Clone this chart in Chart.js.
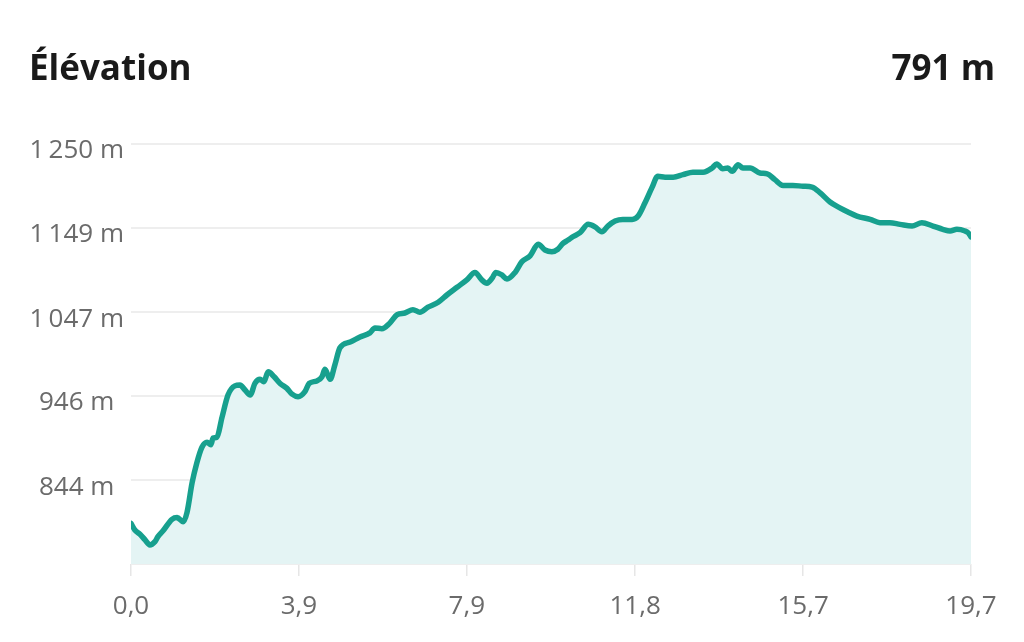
<html lang="fr">
<head>
  <meta charset="UTF-8" />
  <title>Élévation</title>
  <script src="https://cdn.jsdelivr.net/npm/chart.js"></script>
  <style>
    body { margin: 0; background: #fff; font-family: 'Open Sans', sans-serif; }
    .wrap { position: relative; width: 1024px; height: 642px; }
    canvas { display: block; }
  </style>
</head>
<body>
  <div class="wrap">
    <canvas id="chart" width="1024" height="642"></canvas>
  </div>

  <script>
    // profile: distance (km) and elevation (m)
    const distKm = [
      0.00, 0.09, 0.21, 0.33, 0.44, 0.56, 0.63, 0.75, 0.96, 1.08,
      1.22, 1.31, 1.43, 1.54, 1.66, 1.78, 1.87, 1.92, 2.01, 2.13,
      2.27, 2.43, 2.55, 2.67, 2.79, 2.90, 3.02, 3.11, 3.21, 3.35,
      3.49, 3.65, 3.77, 3.91, 4.07, 4.17, 4.35, 4.47, 4.54, 4.66,
      4.77, 4.89, 5.13, 5.36, 5.59, 5.71, 5.87, 6.06, 6.23, 6.41,
      6.60, 6.76, 6.95, 7.19, 7.40, 7.63, 7.86, 8.05, 8.21, 8.33,
      8.45, 8.54, 8.68, 8.80, 8.99, 9.15, 9.34, 9.53, 9.69, 9.85,
      9.99, 10.11, 10.23, 10.34, 10.51, 10.70, 10.86, 11.02, 11.16, 11.33,
      11.51, 11.73, 11.87, 12.03, 12.19, 12.33, 12.50, 12.69, 12.92, 13.15,
      13.39, 13.60, 13.71, 13.85, 13.97, 14.07, 14.21, 14.32, 14.49, 14.72,
      14.89, 15.07, 15.26, 15.49, 15.73, 15.94, 16.13, 16.36, 16.59, 16.78,
      16.99, 17.30, 17.53, 17.76, 18.00, 18.28, 18.51, 18.77, 19.00, 19.17,
      19.33, 19.52, 19.59, 19.66
    ];
    const elevM = [
      792, 784, 779, 772, 766, 770, 776, 783, 797, 799,
      794, 805, 841, 865, 884, 890, 887, 895, 896, 920,
      947, 958, 959, 953, 947, 961, 966, 963, 975, 969,
      961, 955, 948, 945, 951, 961, 964, 969, 978, 966,
      983, 1004, 1011, 1017, 1022, 1028, 1027, 1034, 1044, 1046,
      1050, 1047, 1053, 1059, 1068, 1077, 1086, 1095, 1086, 1082,
      1088, 1095, 1092, 1087, 1095, 1108, 1115, 1129, 1122, 1120,
      1123, 1130, 1134, 1138, 1143, 1153, 1150, 1144, 1151, 1157,
      1159, 1159, 1163, 1179, 1197, 1211, 1210, 1210, 1213, 1216,
      1216, 1221, 1226, 1220, 1221, 1217, 1225, 1221, 1221, 1215,
      1214, 1207, 1200, 1200, 1199, 1198, 1191, 1180, 1173, 1168,
      1163, 1159, 1155, 1155, 1153, 1151, 1155, 1151, 1147, 1145,
      1147, 1145, 1143, 1138
    ];
    const xTicks = [0, 3.93, 7.86, 11.80, 15.73, 19.66];
    const yTicks = [743, 844, 946, 1047, 1149, 1250];
    const titleText = 'Élévation';
    const valueText = '791 m';

    const headerPlugin = {
      id: 'header',
      afterDraw(chart) {
        const ctx = chart.ctx;
        ctx.save();
        ctx.fillStyle = '#1a1a1a';
        ctx.font = "bold 35px 'Open Sans'";
        ctx.textBaseline = 'alphabetic';
        ctx.textAlign = 'left';
        ctx.fillText(titleText, 29, 80);
        ctx.textAlign = 'right';
        ctx.fillText(valueText, 995, 80);
        ctx.restore();
      }
    };

    const fmtKm = v => v.toFixed(1).replace('.', ',');
    const fmtM = v => {
      const s = String(Math.round(v));
      return s.replace(/\B(?=(\d{3})+(?!\d))/g, '\u2009') + ' m';
    };

    new Chart(document.getElementById('chart'), {
      type: 'line',
      data: {
        datasets: [{
          data: distKm.map((d, i) => ({ x: d, y: elevM[i] })),
          borderColor: '#17a08e',
          backgroundColor: '#e4f4f4',
          borderWidth: 5.5,
          fill: 'start',
          pointRadius: 0,
          cubicInterpolationMode: 'monotone',
          borderJoinStyle: 'round',
          borderCapStyle: 'round'
        }]
      },
      options: {
        responsive: false,
        animation: false,
        layout: { padding: { top: 144, right: 53, left: 0, bottom: 0 } },
        plugins: { legend: { display: false }, tooltip: { enabled: false } },
        scales: {
          x: {
            type: 'linear',
            min: 0,
            max: 19.66,
            afterBuildTicks: s => { s.ticks = xTicks.map(v => ({ value: v })); },
            afterFit: s => { s.height = 78; },
            border: { display: false },
            grid: { drawOnChartArea: false, drawTicks: true, tickLength: 12, color: '#e6e6e6', lineWidth: 1.5 },
            ticks: {
              padding: 15,
              maxRotation: 0,
              color: '#6b6b6b',
              font: { family: "'Open Sans'", size: 26 },
              callback: v => fmtKm(v)
            }
          },
          y: {
            min: 743,
            max: 1250,
            afterBuildTicks: s => { s.ticks = yTicks.map(v => ({ value: v })); },
            afterFit: s => { s.width = 131; },
            border: { display: false },
            grid: { drawTicks: false, color: '#eeeeee', lineWidth: 2 },
            ticks: {
              padding: 7,
              labelOffset: 7,
              crossAlign: 'center',
              color: '#6b6b6b',
              font: { family: "'Open Sans'", size: 26 },
              callback: v => v === yTicks[0] ? '' : fmtM(v)
            }
          }
        }
      },
      plugins: [headerPlugin]
    });
  </script>
</body>
</html>
